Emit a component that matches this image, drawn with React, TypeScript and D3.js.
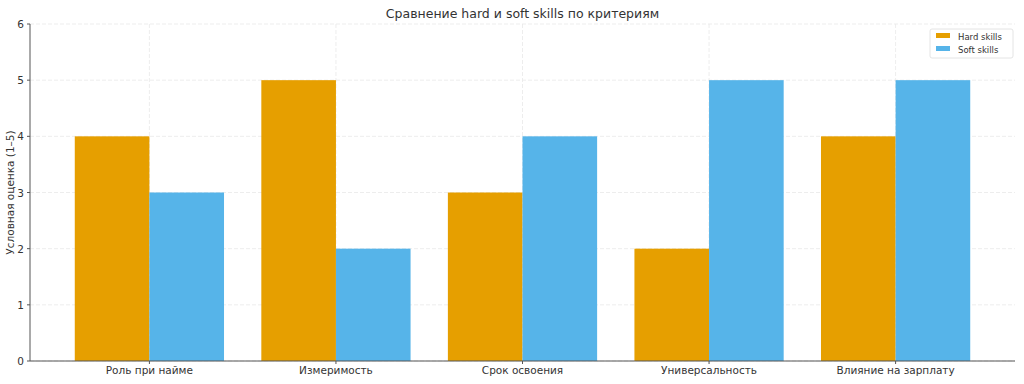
import React from "react";
import * as d3 from "d3";

const categories = ["Роль при найме", "Измеримость", "Срок освоения", "Универсальность", "Влияние на зарплату"];
const hardValues = [4, 5, 3, 2, 4];
const softValues = [3, 2, 4, 5, 5];
const seriesNames = ["Hard skills", "Soft skills"];
const yTicks = [0, 1, 2, 3, 4, 5, 6];

const W = 1024, H = 384;
const left = 30, right = 1015, top = 24, bottom = 361;
const font = "DejaVu Sans, sans-serif";
const colors = ["#E69F00", "#56B4E9"];

export default function App() {
  const x = d3.scaleLinear().domain([-0.64, categories.length - 1 + 0.64]).range([left, right]);
  const y = d3.scaleLinear().domain([0, 6]).range([bottom, top]);
  const bw = 0.4;
  const series = [hardValues, softValues];
  return (
    <svg width={W} height={H} style={{ position: "absolute", left: 0, top: 0, background: "#fff" }}>
      <text x={(left + right) / 2} y={18} textAnchor="middle" fontFamily={font} fontSize={12.5} fill="#333">
        Сравнение hard и soft skills по критериям
      </text>
      {yTicks.map((t) => (
        <line key={"gy" + t} x1={left} x2={right} y1={y(t)} y2={y(t)} stroke="#e8e8e8" strokeWidth={0.8} strokeDasharray="4,2" />
      ))}
      {categories.map((c, i) => (
        <line key={"gx" + i} x1={x(i)} x2={x(i)} y1={top} y2={bottom} stroke="#e8e8e8" strokeWidth={0.8} strokeDasharray="4,2" />
      ))}
      {series.map((vals, s) =>
        vals.map((v, i) => {
          const x0 = x(i - bw + s * bw);
          const x1 = x(i + s * bw);
          return <rect key={s + "-" + i} x={x0} y={y(v)} width={x1 - x0} height={y(0) - y(v)} fill={colors[s]} />;
        })
      )}
      <line x1={left} x2={left} y1={top} y2={bottom} stroke="#555" strokeWidth={1} />
      <line x1={left} x2={right} y1={bottom} y2={bottom} stroke="#555" strokeWidth={1} />
      {yTicks.map((t) => (
        <g key={"ty" + t}>
          <line x1={left - 3} x2={left} y1={y(t)} y2={y(t)} stroke="#555" />
          <text x={left - 6} y={y(t) + 4} textAnchor="end" fontFamily={font} fontSize={10.5} fill="#333">{t}</text>
        </g>
      ))}
      {categories.map((c, i) => (
        <g key={"tx" + i}>
          <line x1={x(i)} x2={x(i)} y1={bottom} y2={bottom + 3} stroke="#555" />
          <text x={x(i)} y={bottom + 13} textAnchor="middle" fontFamily={font} fontSize={10.5} fill="#333">{c}</text>
        </g>
      ))}
      <text transform={`translate(14,${(top + bottom) / 2}) rotate(-90)`} textAnchor="middle" fontFamily={font} fontSize={10.5} fill="#333">
        Условная оценка (1–5)
      </text>
      <g>
        <rect x={930} y={29} width={83} height={29} fill="#fff" stroke="#ddd" strokeWidth={0.8} rx={2} />
        {seriesNames.map((n, s) => (
          <g key={n}>
            <rect x={936} y={33 + s * 13} width={14} height={5} fill={colors[s]} />
            <text x={958} y={39.5 + s * 13} fontFamily={font} fontSize={8.5} fill="#333">{n}</text>
          </g>
        ))}
      </g>
    </svg>
  );
}
